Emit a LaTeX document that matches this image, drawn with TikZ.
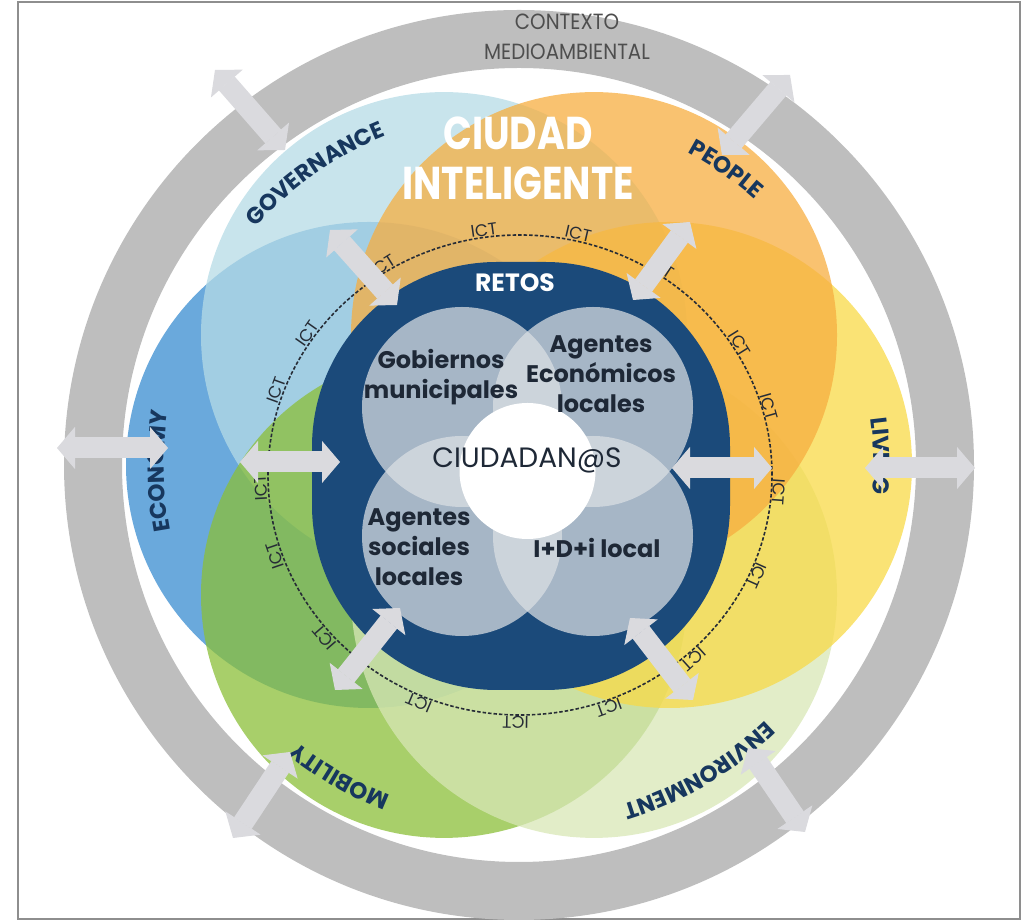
\documentclass[tikz,border=0pt]{standalone}
\usepackage{fontspec}
\setmainfont{Poppins}
\usetikzlibrary{arrows.meta,decorations.text}

\definecolor{ringgrey}{HTML}{BEBEBE}
\definecolor{framegrey}{HTML}{8E8E8E}
\definecolor{econ}{HTML}{388CD0}
\definecolor{gov}{HTML}{B6DBE6}
\definecolor{mob}{HTML}{8BBF38}
\definecolor{envi}{HTML}{D8E7B6}
\definecolor{livi}{HTML}{F8DA47}
\definecolor{peop}{HTML}{F7AE40}
\definecolor{retos}{HTML}{1B4A7A}
\definecolor{agent}{HTML}{DCE0E4}
\definecolor{inktext}{HTML}{1E2836}
\definecolor{labelnavy}{HTML}{17375E}
\definecolor{arrowgrey}{HTML}{DADADE}
\definecolor{ctxtext}{HTML}{4E4E4E}
\definecolor{ictgrey}{HTML}{262C36}

\newcommand\petalfont{\fontsize{23}{23}\selectfont\bfseries\color{labelnavy}}

\begin{document}
\begin{tikzpicture}[x=1pt,y=1pt,
    petal/.style={fill opacity=.75},
    agentcirc/.style={fill=agent,fill opacity=.72},
    agenttext/.style={text=inktext,align=center,font=\fontsize{24}{30}\selectfont\bfseries},
    ict/.style={anchor=south,inner sep=1pt,text=ictgrey,font=\fontsize{17}{17}\selectfont},
    garrow/.style={draw=arrowgrey,line width=21pt,
      {Triangle[length=18pt,width=42pt,line width=1pt]}-{Triangle[length=18pt,width=42pt,line width=1pt]}},
    petallabel/.style={decorate,decoration={text along path,text align=center,text={#1}}}]
  \useasboundingbox (0,0) rectangle (1030,920);
  \draw[framegrey,line width=1.5pt] (18,1) rectangle (1020,918);

  \coordinate (C) at (519,455);
  % context ring
  \fill[ringgrey,even odd rule] (C) circle[radius=455pt] (C) circle[radius=397pt];
  \node[shift={(567,883)},xscale=.9,transform shape,text=ctxtext,align=center,
    font=\fontsize{22}{30}\selectfont] (contexto) at (0,0) {CONTEXTO\\MEDIOAMBIENTAL};

  % six areas of the smart city
  \fill[petal,fill=econ] (C) ++(180:150pt) circle[radius=243pt];
  \fill[petal,fill=gov] (C) ++(120:150pt) circle[radius=243pt];
  \fill[petal,fill=mob] (C) ++(240:150pt) circle[radius=243pt];
  \fill[petal,fill=envi] (C) ++(300:150pt) circle[radius=243pt];
  \fill[petal,fill=livi] (C) ++(0:150pt) circle[radius=243pt];
  \fill[petal,fill=peop] (C) ++(60:150pt) circle[radius=243pt];

  % ICT ring
  \coordinate (E) at (520,445);
  \draw[ictgrey,line width=1.6pt,dash pattern=on 3.5pt off 2pt] (E) ellipse[x radius=252pt,y radius=240pt];
  \path (E) ++(98:252pt and 240pt) node[ict,rotate=8] (ict1) {ICT};
  \path (E) ++(77:252pt and 240pt) node[ict,rotate=-13] (ict2) {ICT};
  \path (E) ++(57:252pt and 240pt) node[ict,rotate=-33] (ict3) {ICT};
  \path (E) ++(32:252pt and 240pt) node[ict,rotate=-58] (ict4) {ICT};
  \path (E) ++(16:252pt and 240pt) node[ict,rotate=-74] (ict5) {ICT};
  \path (E) ++(-4:252pt and 240pt) node[ict,rotate=-94] (ict6) {ICT};
  \path (E) ++(-24:252pt and 240pt) node[ict,rotate=-114] (ict7) {ICT};
  \path (E) ++(-48:252pt and 240pt) node[ict,rotate=-138] (ict8) {ICT};
  \path (E) ++(-70:252pt and 240pt) node[ict,rotate=-160] (ict9) {ICT};
  \path (E) ++(-91:252pt and 240pt) node[ict,rotate=-181] (ict10) {ICT};
  \path (E) ++(-113:252pt and 240pt) node[ict,rotate=-203] (ict11) {ICT};
  \path (E) ++(-139:252pt and 240pt) node[ict,rotate=-229] (ict12) {ICT};
  \path (E) ++(-161:252pt and 240pt) node[ict,rotate=-251] (ict13) {ICT};
  \path (E) ++(-177:252pt and 240pt) node[ict,rotate=-267] (ict14) {ICT};
  \path (E) ++(160:252pt and 240pt) node[ict,rotate=70] (ict15) {ICT};
  \path (E) ++(145:252pt and 240pt) node[ict,rotate=55] (ict16) {ICT};
  \path (E) ++(122:252pt and 240pt) node[ict,rotate=32] (ict17) {ICT};

  % challenges
  \fill[retos,rounded corners=185pt] (312,230) rectangle (730,658);
  \node[text=white,font=\fontsize{25}{25}\selectfont\bfseries] (retos) at (515,637) {RETOS};

  \coordinate (K) at (527.5,449);
  \coordinate (gm) at (462,513);
  \coordinate (ae) at (593,513);
  \coordinate (as) at (462,384);
  \coordinate (id) at (593,384);
  \fill[agentcirc] (gm) circle[radius=100pt];
  \fill[agentcirc] (ae) circle[radius=100pt];
  \fill[agentcirc] (as) circle[radius=100pt];
  \fill[agentcirc] (id) circle[radius=100pt];
  \fill[white] (K) circle[radius=68pt];
  \node[agenttext] (gobiernos) at (441,543) {Gobiernos\\municipales};
  \node[agenttext] (economicos) at (601,546) {Agentes\\Económicos\\locales};
  \node[agenttext] (sociales) at (419,373) {Agentes\\sociales\\locales};
  \node[agenttext] (idi) at (597,372) {I+D+i local};
  \node[text=inktext,font=\fontsize{28}{28}\selectfont] (ciudadanos) at (527,460) {CIUDADAN@S};

  % area names
  \path (C) ++(165:355pt) coordinate (gov1);
  \path[petallabel={|\petalfont|GOVERNANCE}] (gov1) arc[start angle=165,end angle=85,radius=355pt];
  \path (C) ++(95:355pt) coordinate (peo1);
  \path[petallabel={|\petalfont|PEOPLE}] (peo1) arc[start angle=95,end angle=15,radius=355pt];
  \path (C) ++(41.4:355pt) coordinate (liv1);
  \path[petallabel={|\petalfont|LIVING}] (liv1) arc[start angle=41.4,end angle=-38.6,radius=355pt];
  \path (C) ++(-19.5:355pt) coordinate (env1);
  \path[petallabel={|\petalfont|ENVIRONMENT}] (env1) arc[start angle=-19.5,end angle=-99.5,radius=355pt];
  \path (C) ++(-80:355pt) coordinate (mob1);
  \path[petallabel={|\petalfont|MOBILITY}] (mob1) arc[start angle=-80,end angle=-160,radius=355pt];
  \path (C) ++(221:355pt) coordinate (eco1);
  \path[petallabel={|\petalfont|ECONOMY}] (eco1) arc[start angle=221,end angle=141,radius=355pt];

  \node[shift={(518,762)},xscale=.82,transform shape,text=white,align=center,
    font=\fontsize{46}{50}\selectfont\bfseries] (ciudad) at (0,0) {CIUDAD\\INTELIGENTE};

  % exchanges
  \coordinate (il1) at (240,458);  \coordinate (il2) at (340,458);
  \coordinate (ir1) at (672,452);  \coordinate (ir2) at (772,452);
  \coordinate (itl1) at (330,690); \coordinate (itl2) at (397,615);
  \coordinate (itr1) at (690,698); \coordinate (itr2) at (633,620);
  \coordinate (ibl1) at (400,312); \coordinate (ibl2) at (335,230);
  \coordinate (ibr1) at (630,302); \coordinate (ibr2) at (693,220);
  \coordinate (ol1) at (57,472);   \coordinate (ol2) at (168,472);
  \coordinate (or1) at (865,452);  \coordinate (or2) at (975,452);
  \coordinate (otl1) at (215,850); \coordinate (otl2) at (285,770);
  \coordinate (otr1) at (790,845); \coordinate (otr2) at (722,765);
  \coordinate (obl1) at (290,168); \coordinate (obl2) at (233,82);
  \coordinate (obr1) at (748,172); \coordinate (obr2) at (805,88);
  \draw[garrow] (il1) -- (il2);
  \draw[garrow] (ir1) -- (ir2);
  \draw[garrow] (itl1) -- (itl2);
  \draw[garrow] (itr1) -- (itr2);
  \draw[garrow] (ibl1) -- (ibl2);
  \draw[garrow] (ibr1) -- (ibr2);
  \draw[garrow] (ol1) -- (ol2);
  \draw[garrow] (or1) -- (or2);
  \draw[garrow] (otl1) -- (otl2);
  \draw[garrow] (otr1) -- (otr2);
  \draw[garrow] (obl1) -- (obl2);
  \draw[garrow] (obr1) -- (obr2);
\end{tikzpicture}
\end{document}
